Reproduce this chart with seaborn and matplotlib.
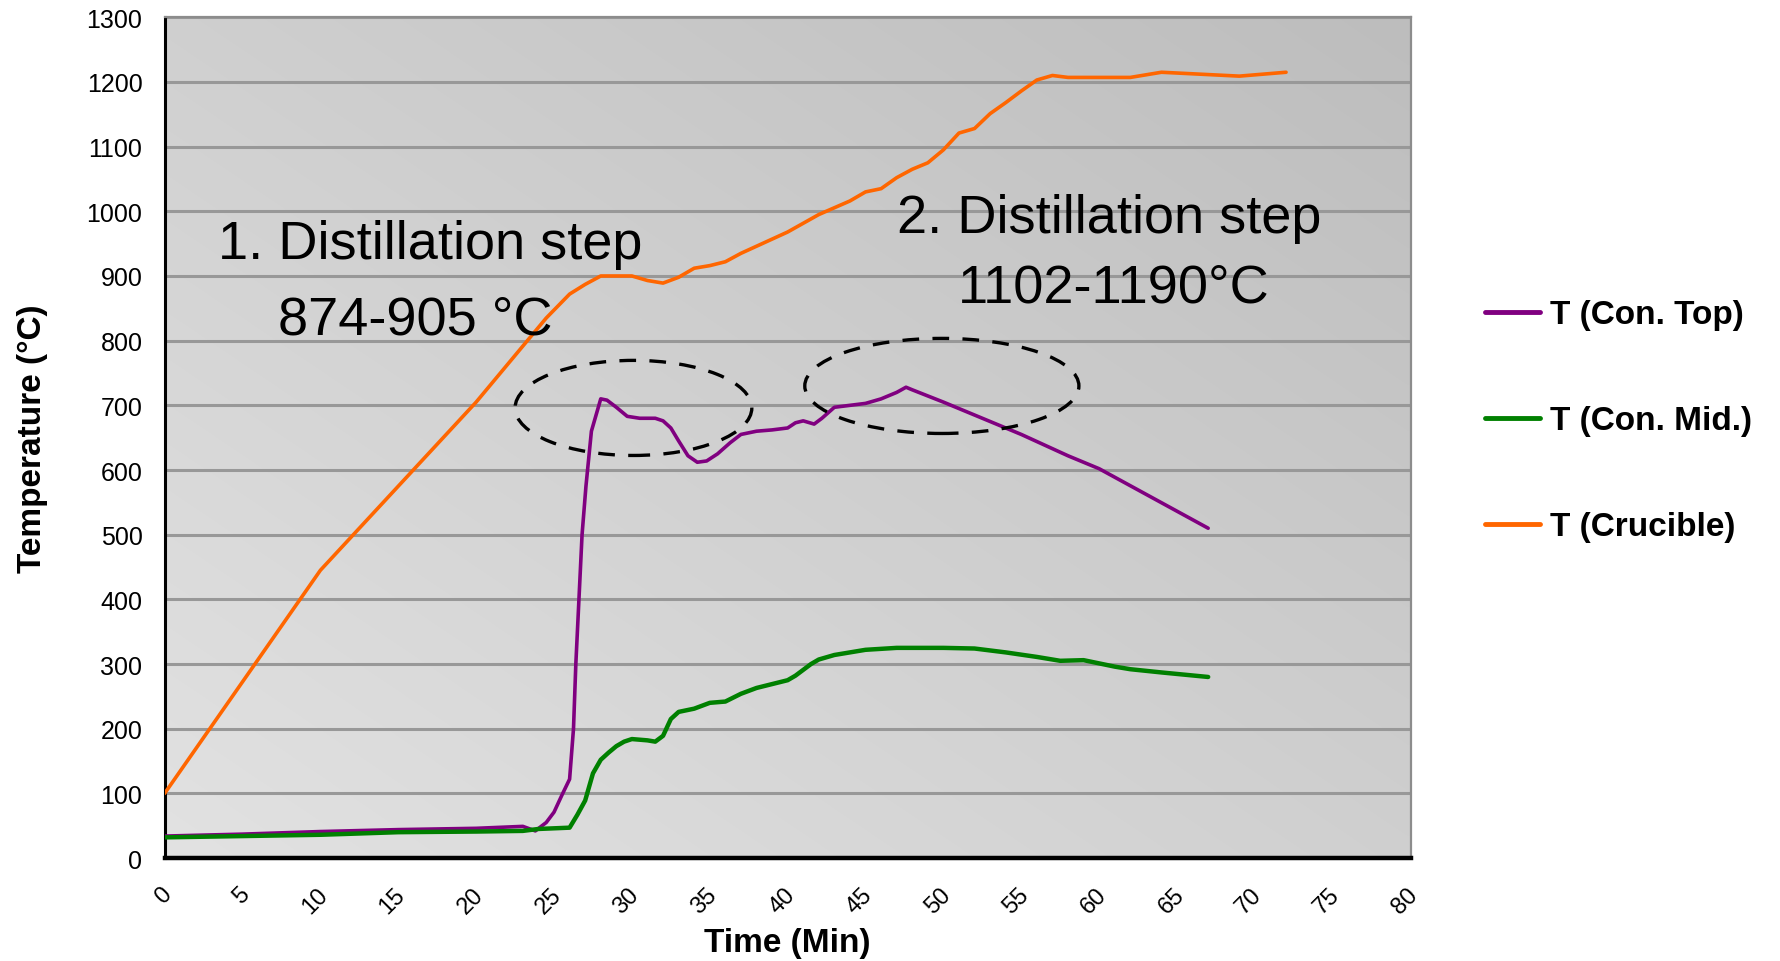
import numpy as np
import pandas as pd
import seaborn as sns
import matplotlib
matplotlib.use("Agg")
import matplotlib.pyplot as plt
from matplotlib.patches import Ellipse
from matplotlib.lines import Line2D
from matplotlib.transforms import ScaledTranslation

# ---------------- data ----------------
t_top = [0, 5, 10, 15, 20, 23, 23.8, 24.5, 25, 25.5, 26, 26.25, 26.4, 26.6, 26.8, 27.05, 27.4, 28,
         28.4, 29, 29.7, 30.5, 31.5, 32, 32.5, 33, 33.6, 34.2, 34.8, 35.5, 36.3, 37, 38, 39, 40,
         40.5, 41, 41.7, 42.2, 43, 44, 45, 46, 47, 47.6, 48, 50, 52, 55, 58, 60, 67]
temp_top = [34, 37, 41, 44, 46, 49, 42, 55, 71, 97, 122, 200, 300, 400, 500, 575, 660, 710,
            708, 697, 683, 680, 680, 676, 665, 645, 622, 612, 614, 625, 642, 655, 660, 662, 665,
            673, 676, 671, 680, 697, 700, 703, 710, 720, 728, 724, 705, 685, 655, 622, 602, 510]

t_mid = [0, 5, 10, 15, 20, 23, 24, 26, 26.5, 27, 27.5, 28, 28.5, 29, 29.5, 30, 30.5, 31, 31.5,
         32, 32.5, 33, 34, 35, 36, 37, 38, 39, 40, 40.5, 41, 41.5, 42, 43, 44, 45, 47, 50,
         52, 54, 56, 57.5, 59, 60, 61, 62, 64, 67]
temp_mid = [32, 34, 36, 40, 41, 42, 45, 47, 67, 89, 131, 152, 163, 173, 180, 184, 183, 182, 180,
            189, 215, 226, 231, 240, 242, 254, 263, 269, 275, 282, 291, 300, 307, 314, 318, 322, 325, 325,
            324, 318, 311, 305, 306, 301, 296, 292, 287, 280]

t_cru = [0, 10, 20, 24.5, 26, 27, 28, 29, 30, 31, 32, 33, 34, 35, 36, 37, 38, 40, 42, 44, 45,
         46, 47, 48, 49, 50, 51, 52, 53, 54, 55, 56, 57, 58, 60, 62, 64, 69, 72]
temp_cru = [100, 445, 705, 835, 872, 887, 900, 900, 900, 893, 889, 898, 912, 916, 922, 935, 946,
            968, 995, 1016, 1030, 1035, 1052, 1065, 1075, 1095, 1121, 1128, 1151, 1168, 1186,
            1203, 1210, 1207, 1207, 1207, 1215, 1209, 1215]

series_names = ["T (Con. Top)", "T (Con. Mid.)", "T (Crucible)"]
series_colors = ["#800080", "#008000", "#FF6600"]
x_ticks = list(range(0, 85, 5))
y_ticks = list(range(0, 1400, 100))

df = pd.concat([
    pd.DataFrame({"Time": t_top, "Temp": temp_top, "Series": series_names[0]}),
    pd.DataFrame({"Time": t_mid, "Temp": temp_mid, "Series": series_names[1]}),
    pd.DataFrame({"Time": t_cru, "Temp": temp_cru, "Series": series_names[2]}),
], ignore_index=True)

# ---------------- style ----------------
sns.set_style("white")
plt.rcParams["font.family"] = ["Liberation Sans", "DejaVu Sans"]
for k in ["text.color", "axes.labelcolor", "xtick.color", "ytick.color"]:
    plt.rcParams[k] = "black"

fig = plt.figure(figsize=(17.8, 9.62), dpi=100)
ax = fig.add_axes([0.0925, 0.107, 0.7, 0.874])

# gradient background
gx, gy = np.meshgrid(np.linspace(0, 1, 200), np.linspace(0, 1, 200))
grad = (gx + gy) / 2.0
ax.imshow(grad, extent=[0, 1, 0, 1], transform=ax.transAxes, origin="lower",
          cmap=matplotlib.colors.LinearSegmentedColormap.from_list("g", ["#e2e2e2", "#bdbdbd"]),
          aspect="auto", zorder=0, interpolation="bilinear")

sns.lineplot(data=df, x="Time", y="Temp", hue="Series", palette=dict(zip(series_names, series_colors)),
             estimator=None, sort=False, linewidth=2.6, ax=ax, legend=False, zorder=3)
for ln, lw in zip(ax.get_lines(), [2.6, 3.2, 2.6]):
    ln.set_linewidth(lw)
    ln.set_solid_capstyle("round")
    ln.set_solid_joinstyle("round")

ax.set_xlim(0, 80)
ax.set_ylim(0, 1300)
ax.set_xticks(x_ticks)
ax.set_yticks(y_ticks)
ax.set_xticklabels([str(v) for v in x_ticks], rotation=45, ha="right", fontsize=17)
ax.set_yticklabels([str(v) for v in y_ticks], fontsize=18)
ax.tick_params(axis="x", direction="out", length=6, width=1.5, pad=12)
ax.tick_params(axis="y", direction="out", length=6, width=1.5, pad=10)
shift = ScaledTranslation(0.115, 0, fig.dpi_scale_trans)
for lab in ax.get_xticklabels():
    lab.set_transform(lab.get_transform() + shift)

ax.yaxis.grid(True, color="#989898", linewidth=2.2, zorder=1)
ax.xaxis.grid(False)
ax.set_axisbelow(True)

for side in ["top", "right"]:
    ax.spines[side].set_color("#8c8c8c")
    ax.spines[side].set_linewidth(1.6)
    ax.spines[side].set_visible(True)
ax.spines["left"].set_color("black")
ax.spines["left"].set_linewidth(2.2)
ax.spines["bottom"].set_color("black")
ax.spines["bottom"].set_linewidth(3.2)

ax.set_xlabel("Time (Min)", fontsize=24, fontweight="bold", labelpad=7)
ax.set_ylabel("Temperature (°C)", fontsize=24, fontweight="bold", labelpad=28)

# annotations
ax.text(3.4, 949, "1. Distillation step", fontsize=39, va="center", ha="left", zorder=4)
ax.text(7.3, 833, "874-905 °C", fontsize=39, va="center", ha="left", zorder=4)
ax.text(47.0, 989, "2. Distillation step", fontsize=39, va="center", ha="left", zorder=4)
ax.text(50.9, 882, "1102-1190°C", fontsize=39, va="center", ha="left", zorder=4)

ax.add_patch(Ellipse((30.1, 696), 15.2, 147, fill=False, edgecolor="black", linewidth=2.4,
                     linestyle=(0, (5, 4)), zorder=4))
ax.add_patch(Ellipse((49.9, 730), 17.6, 147, fill=False, edgecolor="black", linewidth=2.4,
                     linestyle=(0, (5, 4)), zorder=4))

handles = [Line2D([0], [0], color=c, linewidth=3.5, solid_capstyle="round") for c in series_colors]
fig.legend(handles, series_names, loc="center left", bbox_to_anchor=(0.8175, 0.5615), frameon=False,
           prop={"size": 24, "weight": "bold"}, handlelength=1.65, handletextpad=0.3, labelspacing=2.25)

fig.savefig("out.png", dpi=100)
